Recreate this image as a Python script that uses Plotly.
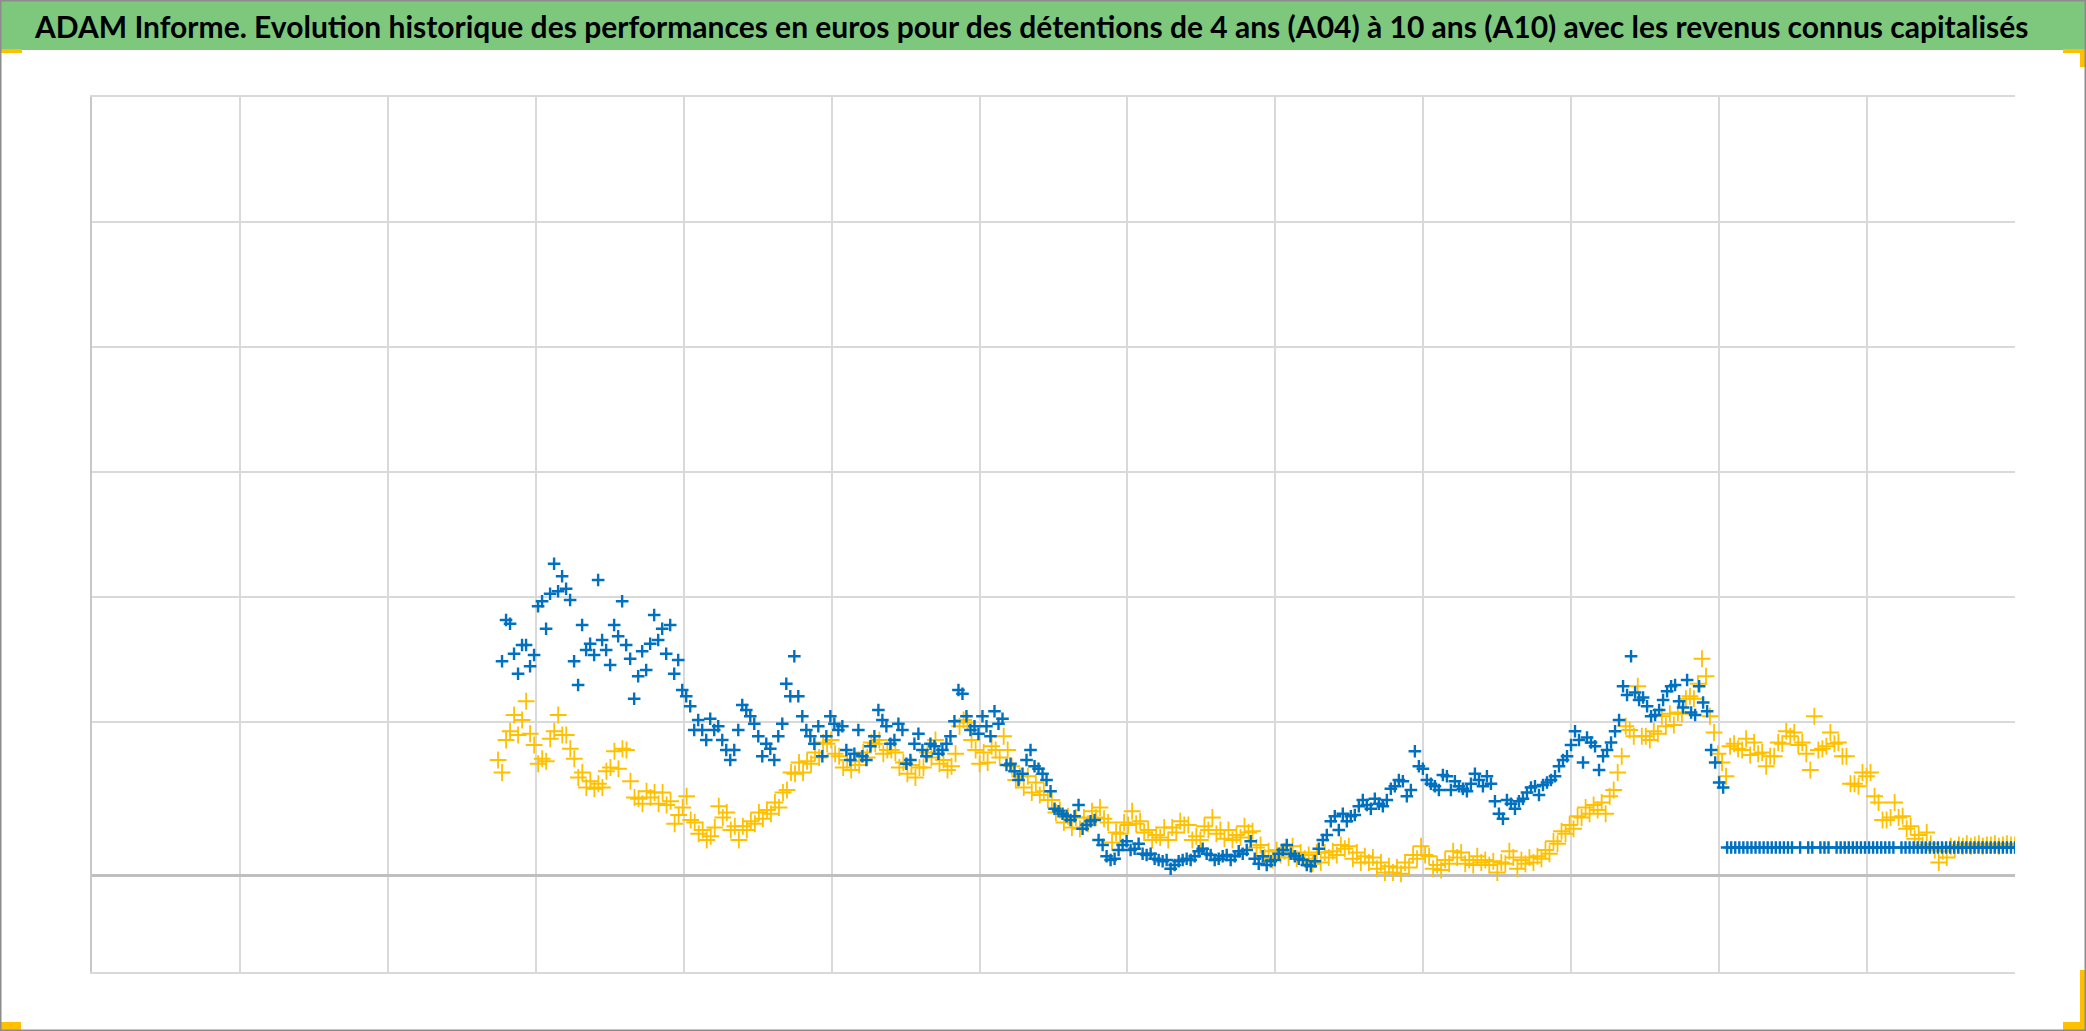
import numpy as np
import plotly.graph_objects as go

# ---------------- data (annualised performance, %) ----------------
# A10 : 10-year holding (gold), sampled regularly from late 2010 to 2021
a10_perf = [
    9.2, 8.2, 10.8, 11.5, 12.8, 11.2, 12.4, 13.9, 11.3, 10.4,
    8.9, 9.3, 9.1, 10.9, 11.5, 12.8, 11.2, 11.2, 10.1, 9.3,
    7.8, 8.2, 7.0, 7.5, 6.9, 7.3, 7.0, 8.3, 8.6, 9.9,
    8.5, 10.1, 10.0, 7.5, 6.2, 6.1, 5.7, 6.7, 6.2, 6.6,
    5.7, 6.6, 5.6, 5.9, 4.1, 4.8, 5.4, 6.3, 4.4, 4.2,
    3.3, 3.6, 2.8, 3.1, 3.8, 5.5, 4.6, 5.0, 3.6, 3.9,
    2.8, 3.9, 3.6, 4.3, 4.1, 5.0, 4.5, 5.2, 4.9, 5.8,
    5.4, 6.6, 6.8, 8.2, 8.1, 9.0, 8.2, 9.1, 8.9, 9.8,
    9.4, 10.6, 10.5, 10.8, 9.7, 9.5, 8.6, 9.2, 8.4, 9.1,
    8.8, 9.8, 9.4, 10.6, 10.5, 10.8, 9.7, 10.0, 10.0, 9.8,
    8.6, 9.0, 8.1, 8.8, 7.8, 8.6, 8.6, 9.8, 9.4, 10.8,
    8.9, 9.2, 8.4, 8.7, 9.7, 11.9, 12.4, 12.2, 10.8, 10.0,
    8.9,
    9.8, 9.0, 10.3, 10.0, 9.4, 11.1, 10.0, 8.7, 7.6, 7.9,
    7.0, 7.9, 6.6, 7.4, 6.4, 6.7, 6.0, 6.0, 5.0, 5.2,
    4.2, 4.7, 3.8, 4.6, 3.7, 4.6, 4.1, 5.1, 4.6, 5.4,
    4.5, 4.2, 2.6, 3.4, 3.3, 4.2, 4.0, 5.1, 4.1, 4.3,
    3.4, 3.6, 2.8, 3.2, 3.0, 3.8, 2.8, 3.8, 3.4, 4.3,
    4.0, 4.0, 2.8, 3.1, 2.8, 3.9, 3.6, 4.6, 3.3, 3.6,
    2.9, 3.6, 2.8, 3.2, 3.0,
    3.9, 3.4, 3.5, 2.2, 2.4, 1.4, 1.9, 1.2, 2.0, 1.6,
    1.9, 1.4, 2.3, 1.3, 1.8, 1.3, 1.6, 0.9, 1.8, 1.0,
    1.8, 1.4, 1.9, 1.6, 2.4, 2.1, 2.3, 1.3, 1.8, 1.0,
    1.5, 1.0, 1.4, 0.5, 1.0, 0.2, 0.7, 0.2, 0.6, 0.1,
    1.0, 0.6, 1.6, 1.3, 2.3, 1.6, 1.5, 0.5, 0.8, 0.4,
    1.2, 0.9, 1.9, 1.4, 1.8, 0.9, 1.2, 0.8, 1.5, 1.0,
    1.2, 0.8, 1.1, 0.2, 1.0, 0.9, 1.9,
    1.4, 0.5, 1.2, 0.9, 1.4, 1.0, 1.5, 1.3, 2.0, 1.7,
    2.7, 2.5, 3.5, 3.3, 4.0, 3.7, 4.7, 4.6, 5.4, 4.9,
    5.6, 5.2, 5.8, 4.9, 6.3, 6.8, 8.2, 9.5, 11.9, 11.6,
    11.1, 15.1, 11.1, 11.1, 10.8, 11.5, 11.3, 12.7, 11.9, 12.9,
    12.0, 13.0, 12.9, 14.1, 14.3, 14.1, 15.3, 17.3, 15.9, 12.7,
    11.4, 9.7, 9.0, 7.9, 10.3, 10.5, 10.1, 10.0, 10.9, 9.6,
    10.6, 9.7, 9.8, 8.7, 9.5, 9.5, 10.6, 10.5, 11.5, 11.1,
    11.4, 10.4, 10.6, 9.7, 8.4, 12.7, 10.0, 10.1, 10.3, 11.4,
    10.5, 10.6, 9.5, 9.5, 7.3, 7.3, 7.1, 8.2, 7.9, 8.2,
    6.3, 5.8, 4.4, 4.4, 4.6, 5.8, 4.6, 4.7, 3.7, 3.9,
    2.9, 3.2, 2.4, 3.4, 2.5, 2.0, 1.0, 1.9, 1.4, 2.3,
    2.1,
    2.4, 2.3, 2.5, 2.3, 2.4, 2.5, 2.3, 2.4, 2.4, 2.5,
    2.3, 2.4, 2.5, 2.4, 2.4,
]

# A04 : 4-year holding (blue), computed part
a04_perf = [
    17.1, 20.4, 20.1, 17.7, 16.1, 18.4, 18.4, 16.7, 17.6, 21.5,
    21.9, 19.7, 22.5, 24.9, 22.7, 23.9, 22.9, 22.0, 17.1, 15.2,
    20.0, 18.0, 18.5, 17.6, 23.6, 18.8, 18.0, 16.8, 20.0, 19.1,
    21.9, 18.4, 17.3, 14.1, 15.9, 17.9, 16.4, 18.5, 20.8, 18.8,
    19.7, 17.7, 20.0, 16.1, 17.2, 14.8, 14.3, 13.5, 11.6, 12.4,
    11.6, 10.8, 12.5, 11.6, 11.9, 10.8, 10.0, 9.2, 10.0, 11.6,
    13.6, 13.2, 12.7, 12.1, 11.1, 9.5, 10.5, 10.1, 9.2, 11.1,
    12.1, 15.3, 14.3, 17.5, 14.3, 12.7, 11.6, 11.1, 10.5, 11.9,
    9.5, 11.1, 12.7, 12.1, 11.6, 11.9, 10.0, 9.2, 9.7, 11.6,
    9.5, 9.2, 10.3, 11.1, 13.2, 12.4, 11.9, 10.5, 10.8, 12.1,
    11.6, 8.9, 9.2, 10.5, 11.3, 10.0, 9.5, 10.5, 10.3, 9.7,
    10.0, 10.5, 11.1, 12.3, 14.8, 14.5, 12.7, 11.6, 11.9, 11.3,
    12.7, 11.9, 11.1, 13.1, 12.1, 12.5, 8.8, 8.9, 8.3, 7.6,
    8.1, 9.2, 10.0, 8.7, 8.5, 8.1, 7.6, 6.7, 5.3, 5.1,
    4.9, 4.7, 4.4, 4.7, 5.6, 3.7, 4.0, 4.3, 4.4, 2.8,
    2.4, 1.5, 1.2, 1.3, 2.0, 2.4, 2.7, 2.0, 2.1, 2.5,
    1.7, 1.6, 1.7, 1.3, 1.2, 1.1, 1.2, 0.5, 0.8, 1.1,
    1.2, 1.3, 1.2, 1.5, 1.9, 2.1, 1.7, 1.6, 1.2, 1.3,
    1.5, 1.6, 1.2, 1.5, 1.9,
    1.7, 2.0, 2.7, 1.3, 0.9, 1.5, 0.8, 1.1, 1.2, 1.7,
    2.0, 2.4, 1.7, 1.5, 1.3, 1.2, 0.8, 0.7, 1.1, 2.1,
    2.8, 3.2, 4.3, 4.7, 3.6, 4.9, 4.3, 4.7, 4.8, 5.5,
    6.0, 5.6, 5.3, 6.1, 5.7, 5.5, 6.0, 6.9, 7.1, 7.6,
    7.5, 6.3, 6.8, 9.9, 8.7, 8.5, 7.6, 7.3, 7.1, 6.8,
    8.0, 7.9, 6.8, 7.5, 7.1, 6.9, 6.7, 7.3, 8.1, 7.6,
    7.1, 7.9, 7.3, 5.9, 4.9, 4.5, 6.0,
    5.7, 5.3, 5.9, 6.1, 6.6, 7.0, 7.1, 6.4, 7.2, 7.4,
    7.6, 7.9, 8.7, 9.2, 9.5, 10.4, 11.5, 10.8, 9.0, 11.0,
    10.6, 10.3, 8.4, 9.5, 10.0, 10.6, 11.5, 12.4, 15.1, 14.4,
    17.5, 14.6, 14.0, 14.2, 13.5, 12.7, 12.8, 13.2, 14.0, 14.7,
    15.1, 15.2, 13.9, 13.4, 15.6, 13.0, 12.8, 15.1, 13.8, 13.1,
    10.0, 9.0, 7.4, 7.0,
]

# A04 : period without a complete 4-year history (constant filler value)
a04_flat = [
    2.2, 2.2, 2.2, 2.2, 2.2, 2.2, 2.2, 2.2, 2.2, 2.2,
    2.2, 2.2, 2.2, 2.2, 2.2, 2.2, 2.2, None, 2.2, None,
    2.2, 2.2, None, 2.2, 2.2, 2.2, None, 2.2, 2.2, 2.2,
    2.2, 2.2, 2.2, 2.2, 2.2, 2.2, 2.2, 2.2, 2.2, 2.2,
    2.2, 2.2, None, 2.2, 2.2, 2.2, 2.2, 2.2, 2.2, 2.2,
    2.2, 2.2, 2.2, 2.2, 2.2, 2.2, 2.2, 2.2, 2.2, 2.2,
    2.2, 2.2, 2.2, 2.2, 2.2, 2.2, 2.2, 2.2, 2.2, 2.2,
    2.2, 2.2,
]

a10_period = (2010.745, 2021.0)
a04_period = (2010.772, 2019.027)
a04_flat_period = (2019.054, 2021.0)

year_grid = list(range(2009, 2021))
x_range = [2008, 2021]
y_range = [-7.76, 62.24]
y_step = 10.0

TITLE = ("ADAM Informe. Evolution historique des performances en euros pour des "
         "détentions de 4 ans (A04) à 10 ans (A10) avec les revenus connus capitalisés")

# ---------------- figure ----------------
W, H = 2086, 1031
L, R, T, B = 92, 2015, 97, 972


def px(xp):
    return (xp - L) / (R - L)


def py(yp):
    return (B - yp) / (B - T)


x_a10 = np.linspace(a10_period[0], a10_period[1], len(a10_perf))
x_a04 = np.linspace(a04_period[0], a04_period[1], len(a04_perf))
x_a04f = np.linspace(a04_flat_period[0], a04_flat_period[1], len(a04_flat))

GOLD = "#FFC000"
BLUE = "#0070C0"

fig = go.Figure()
fig.add_trace(go.Scatter(
    x=x_a10, y=a10_perf, mode="markers", name="A10",
    marker=dict(symbol="cross-thin", size=12, color=GOLD,
                line=dict(color=GOLD, width=1.8)),
))
fig.add_trace(go.Scatter(
    x=np.concatenate([x_a04, x_a04f]), y=list(a04_perf) + list(a04_flat),
    mode="markers", name="A04",
    marker=dict(symbol="cross-thin", size=9, color=BLUE,
                line=dict(color=BLUE, width=2.4)),
))

y_grid = [y_range[0] + k * y_step for k in range(2, 7)]

fig.update_xaxes(
    range=x_range, tickvals=year_grid, showticklabels=False, ticks="",
    showgrid=True, gridcolor="#D9D9D9", gridwidth=1.5, zeroline=False,
    showline=True, linecolor="#D9D9D9", linewidth=1.5, mirror=True,
)
fig.update_yaxes(
    range=y_range, tickvals=y_grid, showticklabels=False, ticks="",
    showgrid=True, gridcolor="#D9D9D9", gridwidth=1.5,
    zeroline=True, zerolinecolor="#BFBFBF", zerolinewidth=2.5,
    showline=True, linecolor="#C8C8C8", linewidth=1.5, mirror=False,
)

shapes = []
# green title band
shapes.append(dict(type="rect", xref="paper", yref="paper", layer="below",
                   x0=px(0), x1=px(W), y0=py(50), y1=py(0),
                   fillcolor="#7DC87D", line=dict(width=0)))
# orange corner marks
for (x0, x1, y0, y1) in [(0, 22, 49, 53), (2063, 2086, 49, 53), (2080, 2086, 49, 67),
                         (0, 21, 1022, 1030), (2063, 2086, 1022, 1030), (2080, 2086, 970, 1030)]:
    shapes.append(dict(type="rect", xref="paper", yref="paper", layer="above",
                       x0=px(x0), x1=px(x1), y0=py(y1), y1=py(y0),
                       fillcolor=GOLD, line=dict(width=0)))
# outer border
shapes.append(dict(type="rect", xref="paper", yref="paper", layer="above",
                   x0=px(0.75), x1=px(W - 0.75), y0=py(H - 0.75), y1=py(0.75),
                   fillcolor="rgba(0,0,0,0)", line=dict(color="#8C8C8C", width=1.5)))

fig.update_layout(
    width=W, height=H, autosize=False,
    margin=dict(l=L, r=W - R, t=T, b=H - B, pad=0),
    paper_bgcolor="white", plot_bgcolor="white",
    showlegend=False,
    shapes=shapes,
    annotations=[dict(
        text=TITLE, xref="paper", yref="paper", x=px(1031), y=py(26),
        xanchor="center", yanchor="middle", showarrow=False,
        font=dict(family="Lato, Open Sans, sans-serif",
                  size=30, color="black", weight="bold"),
    )],
)

fig.write_html("out.html", config={"displayModeBar": False},
               post_script="document.body.style.margin='0';")
